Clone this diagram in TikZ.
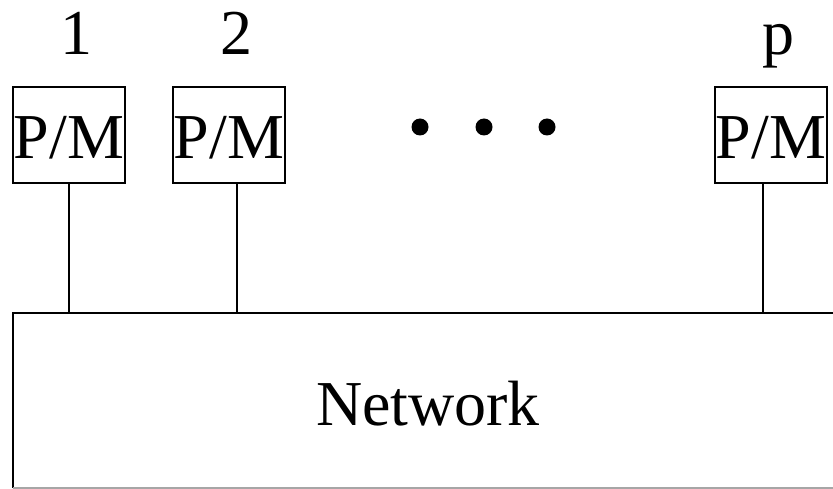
\documentclass[tikz,border=0pt]{standalone}
\usepackage{fontspec}
\setmainfont{Liberation Serif}
\begin{document}
\begin{tikzpicture}[x=1pt,y=-1pt,
  pmbox/.style={draw, line width=1.6pt, minimum width=112pt, minimum height=96pt,
    inner sep=0pt, text height=48pt, text depth=0pt, font=\fontsize{64}{64}\selectfont},
  lbl/.style={anchor=base, inner sep=0pt, font=\fontsize{64}{64}\selectfont},
  link/.style={line width=1.4pt},
  dotn/.style={circle, fill=black, minimum size=17pt, inner sep=0pt}]
\useasboundingbox (0,0) rectangle (833,489);
% network box
\coordinate (ntl) at (13,313);
\coordinate (ntr) at (850,313);
\coordinate (nbl) at (13,488);
\coordinate (nbr) at (850,488);
\draw[line width=1.6pt] (nbl) -- (ntl) -- (ntr);
\draw[line width=1.2pt, black!35] (nbl) -- (nbr);
\node[inner sep=0pt, font=\fontsize{64}{64}\selectfont] (net) at (428,404) {Network};
% processor/memory boxes
\node[pmbox] (pm1) at (69,135) {P/M};
\node[pmbox] (pm2) at (229,135) {P/M};
\node[pmbox] (pmp) at (771,135) {P/M};
% labels
\node[lbl] (l1) at (76,55) {1};
\node[lbl] (l2) at (236,55) {2};
\node[lbl] (lp) at (778,55) {p};
% dots
\node[dotn] (d1) at (420,127) {};
\node[dotn] (d2) at (484,127) {};
\node[dotn] (d3) at (547,127) {};
% connectors
\draw[link] (pm1.south) -- (pm1.south |- ntl);
\draw[link] ([xshift=8pt]pm2.south) -- ([xshift=8pt]pm2.south |- ntl);
\draw[link] ([xshift=-8pt]pmp.south) -- ([xshift=-8pt]pmp.south |- ntl);
\end{tikzpicture}
\end{document}
